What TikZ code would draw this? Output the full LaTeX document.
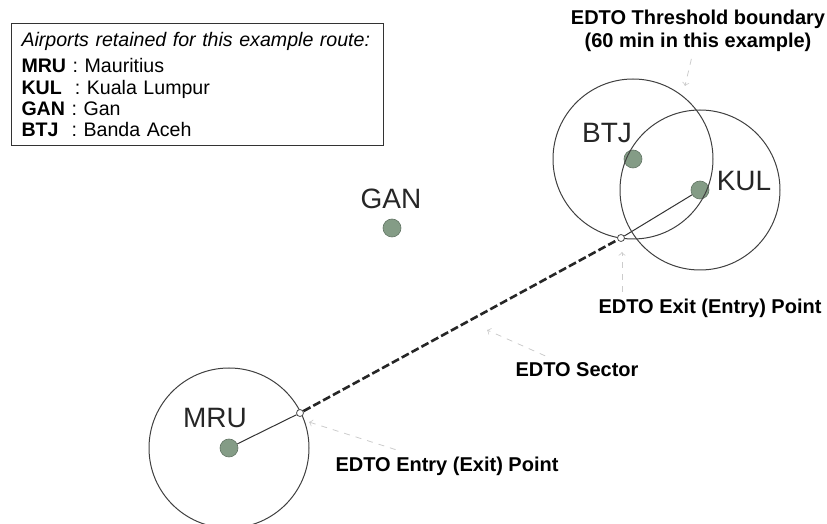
\documentclass[tikz,border=0pt]{standalone}
\usepackage{fontspec}
\setmainfont{Liberation Sans}
\usepackage{tikz}
\usetikzlibrary{calc}

\definecolor{dotgreen}{RGB}{132,156,134}

\begin{document}
\begin{tikzpicture}[x=0.5pt, y=-0.5pt,
    airport/.style={circle, fill=dotgreen, draw=dotgreen!75!black, line width=0.3pt,
        minimum size=9pt, inner sep=0pt},
    code/.style={font=\fontsize{14}{14}\selectfont, text=black!85},
    crossing/.style={circle, draw=black!70, fill=white, line width=0.4pt,
        minimum size=3.5pt, inner sep=0pt},
    caption/.style={font=\bfseries\fontsize{10}{11.5}\selectfont, align=center},
    boundary/.style={draw=black!75, line width=0.5pt},
    pointer/.style={draw=black!20, line width=0.4pt, dashed, ->}]
    \def\rad{40pt}

    \useasboundingbox (0,0) rectangle (827,524);

    % Airports
    \node[airport] (mru) at (229,448) {};
    \node[airport] (gan) at (392,228) {};
    \node[airport] (btj) at (633,159) {};
    \node[airport] (kul) at (700,190) {};

    \node[code] (mrulbl) at (215,418) {MRU};
    \node[code] (ganlbl) at (391,199) {GAN};
    \node[code] (btjlbl) at (607,133) {BTJ};
    \node[code] (kullbl) at (744,181) {KUL};

    % Threshold circles
    \draw[boundary] (mru) circle[radius=\rad];
    \draw[boundary] (btj) circle[radius=\rad];
    \draw[boundary] (kul) circle[radius=\rad];

    % Route through the EDTO sector
    \node[crossing] (entrypt) at (300,413) {};
    \node[crossing] (exitpt) at (621,238) {};

    \draw[black!80, line width=0.5pt] (mru) -- (entrypt);
    \draw[black!85, line width=1.3pt, dash pattern=on 4pt off 1.6pt] (entrypt) -- (exitpt);
    \draw[black!80, line width=0.5pt] (exitpt) -- (kul);

    % Captions and their pointers
    \node[caption] (thrlbl) at (698,31) {EDTO Threshold boundary\\(60 min in this example)};
    \node[caption] (exitlbl) at (710,308) {EDTO Exit (Entry) Point};
    \node[caption] (seclbl) at (577,370) {EDTO Sector};
    \node[caption] (entrylbl) at (447,466) {EDTO Entry (Exit) Point};

    \coordinate (thrtip) at (685,86);
    \coordinate (exittip) at (622,252);
    \coordinate (sectip) at (487,330);
    \coordinate (entrytip) at (309,422);

    \draw[pointer] (thrlbl) -- (thrtip);
    \draw[pointer] (exitlbl.north -| exittip) -- (exittip);
    \draw[pointer] (seclbl) -- (sectip);
    \draw[pointer] (entrylbl) -- (entrytip);

    % Legend
    \node[draw=black!80, line width=0.5pt, anchor=north west, inner xsep=5pt, inner ysep=4.2pt,
        text width=176pt, align=left, font=\fontsize{9.8}{10.7}\selectfont] (legend) at (11,23)
        {\textit{Airports retained for this example route:}\\[2.6pt]
         \textbf{MRU} : Mauritius\\
         \textbf{KUL}\ \ : Kuala Lumpur\\
         \textbf{GAN} : Gan\\
         \textbf{BTJ}\ \ : Banda Aceh};
\end{tikzpicture}
\end{document}
